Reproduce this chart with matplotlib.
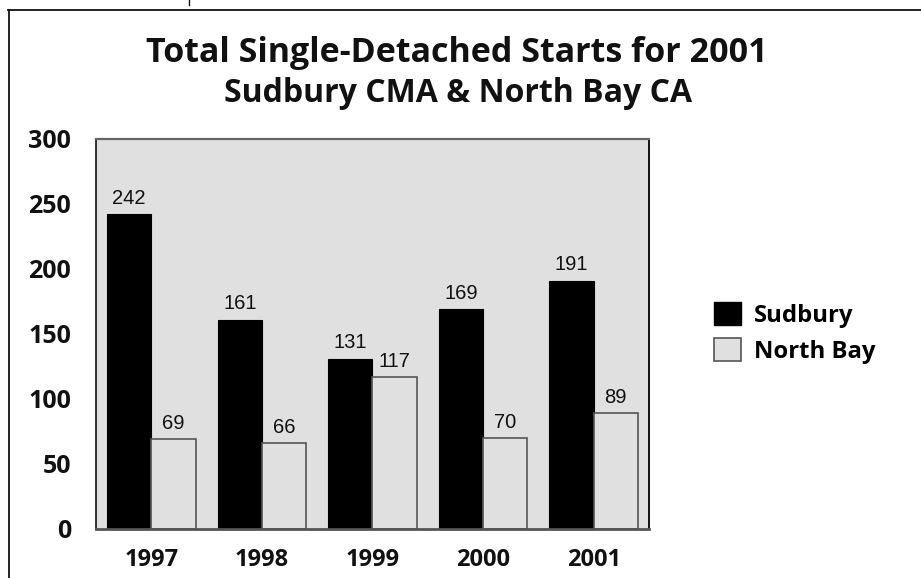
import matplotlib.pyplot as plt
import numpy as np
from matplotlib.lines import Line2D
from matplotlib.patches import Patch

years = ['1997', '1998', '1999', '2000', '2001']
sudbury = [242, 161, 131, 169, 191]
north_bay = [69, 66, 117, 70, 89]

bold_font = 'Open Sans'
value_font = 'Liberation Sans'

fig = plt.figure(figsize=(9.21, 5.78), dpi=100)
ax = fig.add_axes([0.1042, 0.0848, 0.6005, 0.6750])
ax.set_facecolor('#e0e0e0')

x = np.arange(len(years))
w = 0.4
b1 = ax.bar(x - w / 2, sudbury, w, color='black', edgecolor='black', linewidth=0.8)
b2 = ax.bar(x + w / 2, north_bay, w, color='#e0e0e0', edgecolor='#555555', linewidth=1.2)

for bars in (b1, b2):
    ax.bar_label(bars, padding=4.5, fontsize=14.5, family=value_font, color='#111111')

ax.set_xlim(-0.5, len(years) - 0.5)
ax.set_ylim(0, 300)
ax.set_yticks(range(0, 301, 50))
ax.set_xticks(x)
ax.set_xticklabels(years)
ax.tick_params(length=0)
ax.tick_params(axis='y', pad=18, labelsize=18)
ax.tick_params(axis='x', pad=14, labelsize=17)
for lab in ax.get_xticklabels() + ax.get_yticklabels():
    lab.set_family(bold_font)
    lab.set_fontweight('bold')
    lab.set_color('#111111')

ax.spines['top'].set_color('#666666')
ax.spines['top'].set_linewidth(1.6)
ax.spines['bottom'].set_color('#555555')
ax.spines['bottom'].set_linewidth(2)
ax.spines['left'].set_color('#111111')
ax.spines['left'].set_linewidth(1.2)
ax.spines['right'].set_color('#111111')
ax.spines['right'].set_linewidth(1.4)

fig.text(0.496, 1 - 62 / 578, 'Total Single-Detached Starts for 2001', ha='center', va='baseline',
         fontsize=24.5, fontweight='bold', family=bold_font, color='#111111')
fig.text(0.497, 1 - 102 / 578, 'Sudbury CMA & North Bay CA', ha='center', va='baseline',
         fontsize=23, fontweight='bold', family=bold_font, color='#111111')

handles = [Patch(facecolor='black', edgecolor='black'),
           Patch(facecolor='#e0e0e0', edgecolor='#555555', linewidth=1.2)]
fig.legend(handles, ['Sudbury', 'North Bay'], loc='center left',
           bbox_to_anchor=(714 / 921, 1 - 333 / 578), frameon=False,
           prop={'family': bold_font, 'weight': 'bold', 'size': 17.2},
           handlelength=1.13, handleheight=1.05, handletextpad=0.55, labelspacing=0.45,
           borderpad=0, borderaxespad=0)

# outer frame lines
fig.add_artist(Line2D([8 / 921, 1], [1 - 9.5 / 578] * 2, transform=fig.transFigure,
                      color='#111111', linewidth=1.3))
fig.add_artist(Line2D([9 / 921] * 2, [0, 1 - 9.5 / 578], transform=fig.transFigure,
                      color='#111111', linewidth=1.3))
fig.add_artist(Line2D([189 / 921] * 2, [1, 1 - 5 / 578], transform=fig.transFigure,
                      color='#111111', linewidth=1))

fig.savefig('out.png', dpi=100)
